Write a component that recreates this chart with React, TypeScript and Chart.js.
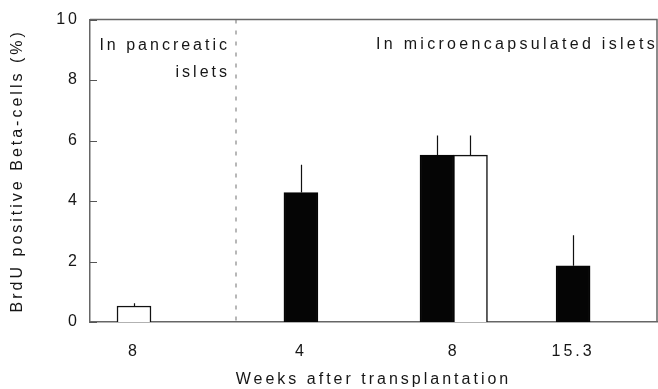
import React, { useEffect, useRef } from 'react';
import { Chart, registerables } from 'chart.js';

Chart.register(...registerables);

// Group tick labels (weeks after transplantation) and their positions on the x axis
const groupLabels = ['8', '4', '8', '15.3'];
const groupPositions = [7.76, 37.2, 64.15, 85.2];

// Black bars
const blackX = [37.2, 61.2, 85.2];
const blackValues = [4.28, 5.52, 1.86];
const blackErrors = [0.92, 0.65, 1.01];

// White bars
const whiteX = [7.76, 67.1];
const whiteValues = [0.53, 5.52];
const whiteErrors = [0.09, 0.65];

// Divider between pancreatic and microencapsulated islets
const dividerX = 25.75;

const FONT = '"Liberation Sans", Arial, sans-serif';
const TEXT = '#161616';
const SPACING = '3px';

const decor = {
  id: 'decor',
  beforeDraw(chart: any) {
    (chart.ctx as any).letterSpacing = SPACING;
  },
  afterDatasetsDraw(chart: any) {
    const { ctx, chartArea: a, scales } = chart;
    const x = scales.x;
    const y = scales.y;
    ctx.save();
    // dotted divider
    ctx.strokeStyle = '#a0a0a0';
    ctx.lineWidth = 1.5;
    ctx.setLineDash([4, 7]);
    const dx = x.getPixelForValue(dividerX);
    ctx.beginPath();
    ctx.moveTo(dx, a.top);
    ctx.lineTo(dx, a.bottom);
    ctx.stroke();
    ctx.setLineDash([]);

    // error bars (upper whisker only)
    ctx.strokeStyle = '#111';
    ctx.lineWidth = 1.2;
    ctx.beginPath();
    chart.data.datasets.forEach((ds: any) => {
      ds.data.forEach((p: any, i: number) => {
        const px = Math.round(x.getPixelForValue(p.x)) + 0.5;
        ctx.moveTo(px, y.getPixelForValue(p.y));
        ctx.lineTo(px, y.getPixelForValue(p.y + ds.errors[i]));
      });
    });
    ctx.stroke();

    // top and right frame
    ctx.strokeStyle = '#666';
    ctx.lineWidth = 1.5;
    ctx.beginPath();
    ctx.moveTo(a.left, a.top);
    ctx.lineTo(a.right, a.top);
    ctx.lineTo(a.right, a.bottom);
    ctx.stroke();

    // inner tick marks on y axis
    ctx.strokeStyle = '#555';
    ctx.lineWidth = 1;
    ctx.beginPath();
    y.ticks.forEach((t: any) => {
      const py = Math.round(y.getPixelForValue(t.value)) + 0.5;
      ctx.moveTo(a.left, py);
      ctx.lineTo(a.left + 7, py);
    });
    ctx.stroke();

    // annotations
    ctx.fillStyle = TEXT;
    ctx.font = `16px ${FONT}`;
    (ctx as any).letterSpacing = SPACING;
    ctx.textBaseline = 'middle';
    ctx.textAlign = 'right';
    ctx.fillText('In pancreatic', dx - 6, a.top + 26);
    ctx.fillText('islets', dx - 6, a.top + 53);
    ctx.textAlign = 'left';
    (ctx as any).letterSpacing = '3.3px';
    ctx.fillText('In microencapsulated islets', dx + 140, a.top + 25);
    ctx.restore();
  },
};

export default function App() {
  const ref = useRef<HTMLCanvasElement | null>(null);

  useEffect(() => {
    if (!ref.current) return;
    const chart = new Chart(ref.current, {
      type: 'bar',
      data: {
        datasets: [
          {
            label: 'Black',
            data: blackX.map((xv, i) => ({ x: xv, y: blackValues[i] })),
            errors: blackErrors,
            backgroundColor: '#050505',
            borderColor: '#050505',
            borderWidth: 1.5,
            barThickness: 34,
            grouped: false,
          } as any,
          {
            label: 'White',
            data: whiteX.map((xv, i) => ({ x: xv, y: whiteValues[i] })),
            errors: whiteErrors,
            backgroundColor: '#ffffff',
            borderColor: '#111',
            borderWidth: 1.5,
            barThickness: 34,
            grouped: false,
          } as any,
        ],
      },
      options: {
        animation: false,
        responsive: false,
        devicePixelRatio: 1,
        layout: { padding: { top: 16, right: 1, left: 0, bottom: 0 } },
        plugins: { legend: { display: false }, tooltip: { enabled: false } },
        scales: {
          x: {
            type: 'linear',
            min: 0,
            max: 100,
            offset: false,
            afterBuildTicks: (scale: any) => {
              scale.ticks = groupPositions.map((v) => ({ value: v }));
            },
            afterFit: (scale: any) => {
              scale.height = 67;
            },
            grid: { display: false, drawTicks: false, offset: false },
            border: { display: true, color: '#666', width: 1.5 },
            ticks: {
              autoSkip: false,
              maxRotation: 0,
              padding: 20,
              color: TEXT,
              font: { family: FONT, size: 16 },
              callback: (_v: any, i: number) => groupLabels[i],
            },
            title: {
              display: true,
              text: 'Weeks after transplantation',
              color: TEXT,
              font: { family: FONT, size: 16 },
              padding: { top: 0, bottom: 0 },
            },
          },
          y: {
            type: 'linear',
            min: 0,
            max: 10,
            afterFit: (scale: any) => {
              scale.width = 90;
            },
            grid: { display: false, drawTicks: false },
            border: { display: true, color: '#666', width: 1.5 },
            ticks: {
              stepSize: 2,
              padding: 10,
              color: TEXT,
              font: { family: FONT, size: 16 },
            },
            title: {
              display: true,
              text: 'BrdU positive Beta-cells (%)',
              color: TEXT,
              font: { family: FONT, size: 16 },
              padding: { top: 8, bottom: 0 },
            },
          },
        },
      } as any,
      plugins: [decor],
    });
    return () => chart.destroy();
  }, []);

  return (
    <div style={{ position: 'fixed', left: 0, top: 0, width: 658, height: 389, background: '#fff' }}>
      <canvas ref={ref} width={658} height={389} style={{ width: 658, height: 389 }} />
    </div>
  );
}
